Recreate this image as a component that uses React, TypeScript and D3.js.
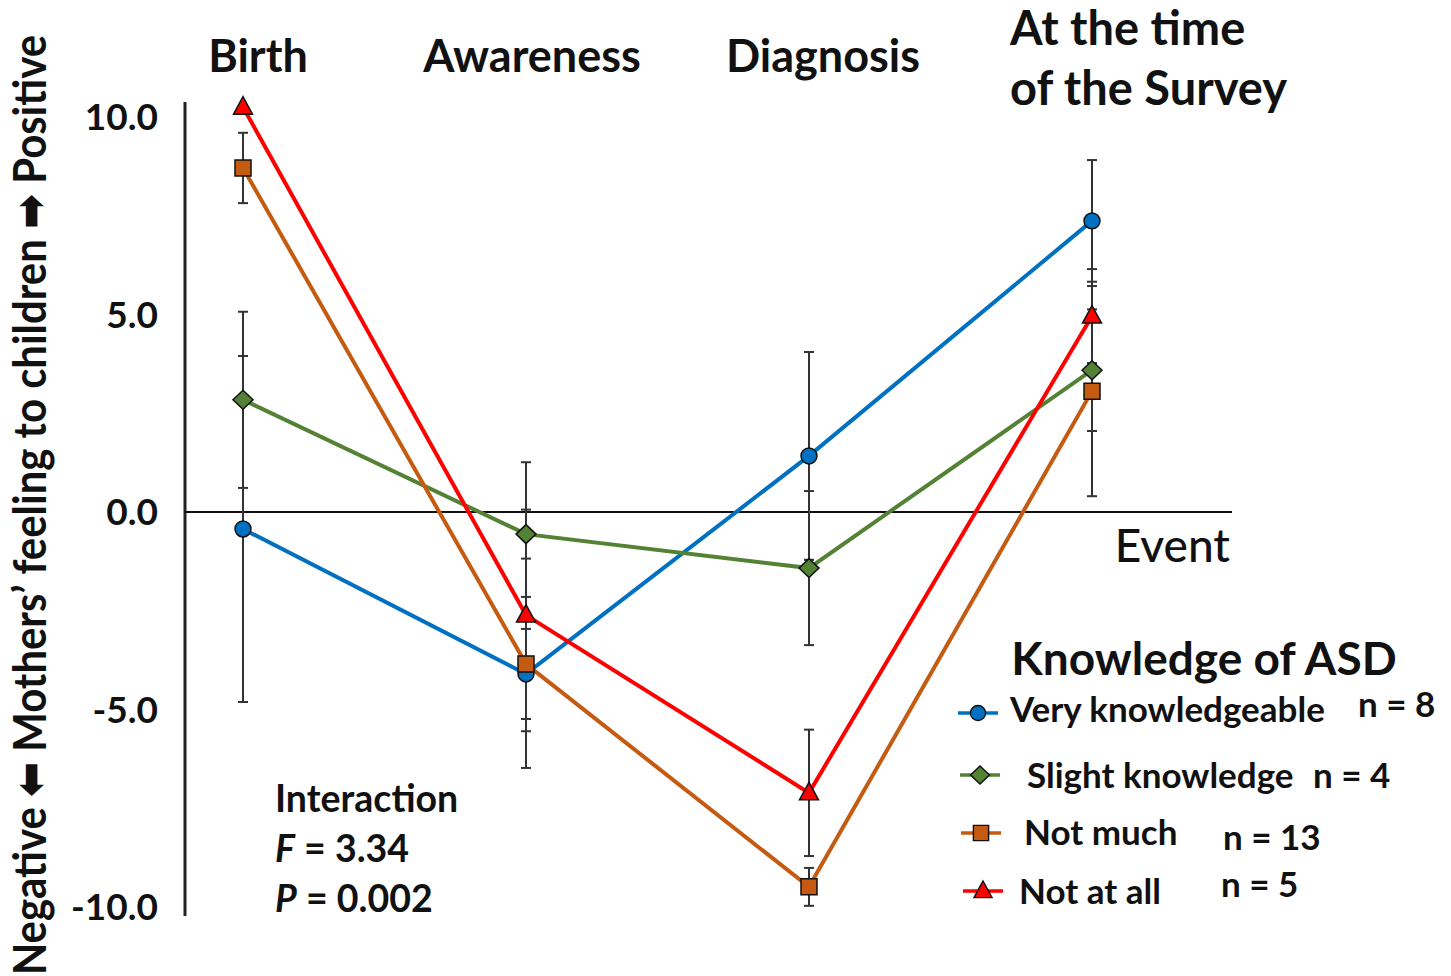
import React, { useEffect, useRef } from 'react';
import * as d3 from 'd3';

// Events on the x axis
const events = ['Birth', 'Awareness', 'Diagnosis', 'Survey'];

// Group names, sample sizes and colours
const groups = ['Very knowledgeable', 'Slight knowledge', 'Not much', 'Not at all'];
const groupN = ['n = 8', 'n = 4', 'n = 13', 'n = 5'];

// Mean scores per event
const veryValues = [-0.43, -4.1, 1.42, 7.37];
const slightValues = [2.84, -0.56, -1.42, 3.59];
const notMuchValues = [8.71, -3.85, -9.49, 3.06];
const notAtAllValues = [10.25, -2.61, -7.11, 4.96];

// Error bar half-lengths per event
const veryErr = [4.38, 1.14, 2.63, 1.54];
const slightErr = [2.23, 0.62, 1.95, 1.54];
const notMuchErr = [0.89, 1.7, 0.48, 2.66];
const notAtAllErr = [0, 3.87, 1.6, 1.19];

const yTicks = [10, 5, 0, -5, -10];

const W = 1451;
const H = 976;

const App: React.FC = () => {
  const svgRef = useRef<SVGSVGElement>(null);

  useEffect(() => {
    if (!svgRef.current) return;
    const svg = d3.select(svgRef.current);
    svg.selectAll('*').remove();

    const series = [
      { name: groups[0], n: groupN[0], values: veryValues, err: veryErr, color: '#0070C0', shape: 'circle' },
      { name: groups[1], n: groupN[1], values: slightValues, err: slightErr, color: '#548235', shape: 'diamond' },
      { name: groups[2], n: groupN[2], values: notMuchValues, err: notMuchErr, color: '#C55A11', shape: 'square' },
      { name: groups[3], n: groupN[3], values: notAtAllValues, err: notAtAllErr, color: '#FF0000', shape: 'triangle' }
    ];

    const xScale = d3.scalePoint<string>().domain(events).range([243, 1092]);
    const yScale = d3.scaleLinear().domain([-10, 10]).range([907, 117]);

    const calibri = 'Lato, "Open Sans", sans-serif';
    const symbols = '"DejaVu Sans", sans-serif';

    // y axis line (no ticks)
    svg.append('line')
      .attr('x1', 185).attr('x2', 185)
      .attr('y1', yScale(10.38)).attr('y2', yScale(-10.23))
      .attr('stroke', '#222').attr('stroke-width', 3);

    // zero line
    svg.append('line')
      .attr('x1', 185).attr('x2', 1232)
      .attr('y1', yScale(0)).attr('y2', yScale(0))
      .attr('stroke', '#111').attr('stroke-width', 2);

    // y tick labels
    svg.append('g')
      .selectAll('text')
      .data(yTicks)
      .enter()
      .append('text')
      .attr('x', 158)
      .attr('y', d => yScale(d))
      .attr('dy', '0.36em')
      .attr('text-anchor', 'end')
      .style('font-family', calibri)
      .style('font-weight', 'bold')
      .style('font-size', '37px')
      .attr('fill', '#111')
      .text(d => d.toFixed(1));

    // y axis title
    const yTitle = svg.append('text')
      .attr('transform', `translate(46,${(35 + 975) / 2}) rotate(-90)`)
      .attr('text-anchor', 'middle')
      .attr('textLength', 940)
      .attr('lengthAdjust', 'spacingAndGlyphs')
      .style('font-family', calibri)
      .style('font-weight', 'bold')
      .style('font-size', '46px')
      .attr('fill', '#111');
    yTitle.append('tspan').text('Negative ');
    yTitle.append('tspan').style('font-family', symbols).text('⬅');
    yTitle.append('tspan').text(' Mothers’ feeling to children ');
    yTitle.append('tspan').style('font-family', symbols).text('➡');
    yTitle.append('tspan').text(' Positive');

    // event labels
    const labelDx = [15, 6, 14];
    events.slice(0, 3).forEach((e, i) => {
      svg.append('text')
        .attr('x', (xScale(e) || 0) + labelDx[i])
        .attr('y', 72)
        .attr('text-anchor', 'middle')
        .style('font-family', calibri)
        .style('font-weight', 'bold')
        .style('font-size', '45px')
        .attr('fill', '#111')
        .text(e);
    });
    const survey = svg.append('text')
      .style('font-family', calibri)
      .style('font-weight', 'bold')
      .style('font-size', '47px')
      .attr('fill', '#111');
    survey.append('tspan').attr('x', 1010).attr('y', 45).text('At the time');
    survey.append('tspan').attr('x', 1010).attr('y', 105).text('of the Survey');

    svg.append('text')
      .attr('x', 1230).attr('y', 562)
      .attr('text-anchor', 'end')
      .style('font-family', calibri)
      .style('font-weight', 500)
      .style('font-size', '46px')
      .attr('fill', '#111')
      .text('Event');

    const symbolFor = (shape: string) => {
      if (shape === 'circle') return d3.symbol().type(d3.symbolCircle).size(200)();
      if (shape === 'diamond') return 'M0,-9.5L10,0L0,9.5L-10,0Z';
      if (shape === 'square') return 'M-8,-8H8V8H-8Z';
      return 'M0,-10.5L9.5,7H-9.5Z';
    };

    const line = d3.line<number>()
      .x((_d, i) => xScale(events[i]) || 0)
      .y(d => yScale(d));

    // lines
    series.forEach(s => {
      svg.append('path')
        .datum(s.values)
        .attr('d', line)
        .attr('fill', 'none')
        .attr('stroke', s.color)
        .attr('stroke-width', 4);
    });

    // error bars
    series.forEach(s => {
      const g = svg.append('g').attr('stroke', '#333').attr('stroke-width', 2);
      s.values.forEach((v, i) => {
        if (!s.err[i]) return;
        const x = xScale(events[i]) || 0;
        const y1 = yScale(v + s.err[i]);
        const y2 = yScale(v - s.err[i]);
        g.append('line').attr('x1', x).attr('x2', x).attr('y1', y1).attr('y2', y2);
        g.append('line').attr('x1', x - 5).attr('x2', x + 5).attr('y1', y1).attr('y2', y1);
        g.append('line').attr('x1', x - 5).attr('x2', x + 5).attr('y1', y2).attr('y2', y2);
      });
    });

    // markers
    series.forEach(s => {
      svg.append('g')
        .selectAll('path')
        .data(s.values)
        .enter()
        .append('path')
        .attr('transform', (d, i) => `translate(${xScale(events[i])},${yScale(d)})`)
        .attr('d', symbolFor(s.shape))
        .attr('fill', s.color)
        .attr('stroke', '#111')
        .attr('stroke-width', 1.5);
    });

    // legend
    svg.append('text')
      .attr('x', 1204).attr('y', 675)
      .attr('text-anchor', 'middle')
      .style('font-family', calibri)
      .style('font-weight', 'bold')
      .style('font-size', '46px')
      .attr('fill', '#111')
      .text('Knowledge of ASD');

    const legendY = [713, 775, 833, 891];
    const legendLineX = [958, 960, 961, 963];
    const legendTextX = [1010, 1027, 1024, 1019];
    const legendTextY = [722, 788, 845, 904];
    const legendNX = [1358, 1313, 1223, 1221];
    const legendNY = [717, 788, 850, 897];

    series.forEach((s, i) => {
      const x0 = legendLineX[i];
      svg.append('line')
        .attr('x1', x0).attr('x2', x0 + 40)
        .attr('y1', legendY[i]).attr('y2', legendY[i])
        .attr('stroke', s.color).attr('stroke-width', 3.5);
      svg.append('path')
        .attr('transform', `translate(${x0 + 20},${legendY[i]}) scale(0.95)`)
        .attr('d', symbolFor(s.shape))
        .attr('fill', s.color)
        .attr('stroke', '#111')
        .attr('stroke-width', 1.5);
      svg.append('text')
        .attr('x', legendTextX[i]).attr('y', legendTextY[i])
        .style('font-family', calibri)
        .style('font-weight', 'bold')
        .style('font-size', '35px')
        .attr('fill', '#111')
        .text(s.name);
      svg.append('text')
        .attr('x', legendNX[i]).attr('y', legendNY[i])
        .style('font-family', calibri)
        .style('font-weight', 'bold')
        .style('font-size', '35px')
        .attr('fill', '#111')
        .text(s.n);
    });

    // interaction statistics
    const stat = svg.append('g')
      .style('font-family', calibri)
      .style('font-weight', 'bold')
      .style('font-size', '37.5px')
      .attr('fill', '#111');
    stat.append('text').attr('x', 275).attr('y', 812).text('Interaction');
    const f = stat.append('text').attr('x', 275).attr('y', 862);
    f.append('tspan').style('font-style', 'italic').text('F');
    f.append('tspan').text(' = 3.34');
    const p = stat.append('text').attr('x', 275).attr('y', 912);
    p.append('tspan').style('font-style', 'italic').text('P');
    p.append('tspan').text(' = 0.002');
  }, []);

  return (
    <svg
      ref={svgRef}
      width={W}
      height={H}
      style={{ position: 'absolute', left: 0, top: 0, background: '#fff' }}
    />
  );
};

export default App;
